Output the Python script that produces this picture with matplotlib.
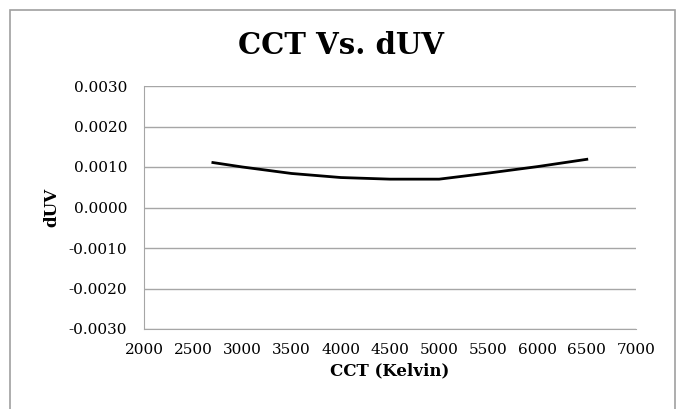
import numpy as np
import matplotlib.pyplot as plt
from matplotlib.patches import Rectangle

cct = [2700, 3000, 3500, 4000, 4500, 5000, 5500, 6000, 6500]
duv = [0.00111, 0.00100, 0.00084, 0.00074, 0.00070, 0.00070, 0.00085, 0.00101, 0.00119]

x_ticks = np.arange(2000, 7001, 500)
y_ticks = np.arange(-0.003, 0.00301, 0.001)

plt.rcParams['font.family'] = 'DejaVu Serif'

fig = plt.figure(figsize=(6.81, 4.09), dpi=100)
fig.patches.append(Rectangle((10 / 681, -0.05), 665 / 681, 1.05 - 10 / 409,
                             transform=fig.transFigure, fill=False,
                             edgecolor='#a0a0a0', linewidth=1.2))

ax = fig.add_axes([144 / 681, 1 - 329 / 409, 492 / 681, 243 / 409])
ax.plot(cct, duv, color='black', linewidth=2)

ax.set_xlim(2000, 7000)
ax.set_ylim(-0.003, 0.003)
ax.set_xticks(x_ticks)
ax.set_yticks(y_ticks)
ax.set_yticklabels(['{:.4f}'.format(v).replace('-0.0000', '0.0000') for v in y_ticks])
ax.tick_params(length=0, labelsize=11)
ax.tick_params(axis='y', pad=12)
ax.tick_params(axis='x', pad=10)
ax.grid(axis='y', color='#a6a6a6', linewidth=1)
ax.set_axisbelow(True)
for s in ['top', 'right']:
    ax.spines[s].set_visible(False)
ax.spines['left'].set_color('#a6a6a6')
ax.spines['bottom'].set_color('#a6a6a6')

ax.set_xlabel('CCT (Kelvin)', fontsize=12, fontweight='bold', labelpad=4)
ax.set_ylabel('dUV', fontsize=12, fontweight='bold', labelpad=6)
fig.text(0.5, 1 - 46 / 409, 'CCT Vs. dUV', ha='center', va='center',
         fontsize=21, fontweight='bold')

fig.savefig('out.png', dpi=100)
